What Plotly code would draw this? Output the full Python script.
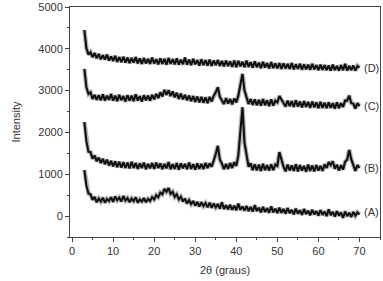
import numpy as np
import plotly.graph_objects as go

# 2theta grid, 0.5 deg step
two_theta = np.arange(3.0, 70.01, 0.5)

sample_a = [
    1100, 720, 540, 520, 390, 460, 330, 420, 350, 440, 320, 410, 360, 450, 340, 470,
    380, 440, 350, 480, 370, 430, 330, 420, 360, 450, 320, 400, 350, 430, 330, 410,
    360, 450, 400, 500, 450, 560, 520, 650, 580, 670, 530, 580, 460, 520, 400, 460,
    350, 420, 300, 380, 290, 360, 250, 340, 230, 330, 240, 310, 210, 320, 200, 300,
    210, 290, 180, 330, 170, 260, 160, 270, 150, 250, 140, 300, 150, 230, 130, 240,
    120, 220, 110, 260, 120, 200, 90, 220, 100, 190, 80, 230, 90, 180, 70, 200,
    80, 170, 60, 190, 70, 150, 40, 180, 60, 140, 30, 170, 50, 130, 20, 150,
    40, 120, 10, 140, 30, 110, 0, 160, 20, 100, -10, 120, 10, 90, -40, 110,
    0, 80, -20, 100, 10, 90, 40,
]

sample_b = [
    2250, 1780, 1540, 1530, 1370, 1450, 1310, 1400, 1270, 1370, 1240, 1350, 1210, 1320, 1190, 1310,
    1170, 1300, 1160, 1290, 1150, 1280, 1140, 1300, 1150, 1270, 1130, 1260, 1150, 1280, 1120, 1250,
    1140, 1270, 1130, 1280, 1150, 1260, 1120, 1250, 1140, 1290, 1120, 1240, 1130, 1270, 1110, 1260,
    1140, 1250, 1120, 1280, 1130, 1240, 1110, 1260, 1130, 1250, 1120, 1270, 1150, 1260, 1180, 1320,
    1480, 1680, 1350, 1260, 1120, 1250, 1130, 1270, 1150, 1290, 1200, 1450, 1950, 2600, 1750, 1400,
    1180, 1260, 1100, 1240, 1090, 1230, 1080, 1250, 1100, 1220, 1090, 1240, 1100, 1230, 1200, 1530,
    1320, 1180, 1070, 1230, 1090, 1210, 1080, 1240, 1070, 1220, 1090, 1200, 1060, 1230, 1080, 1210,
    1070, 1220, 1090, 1200, 1080, 1240, 1150, 1290, 1220, 1310, 1130, 1230, 1090, 1220, 1110, 1300,
    1350, 1580, 1360, 1230, 1080, 1220, 1150,
]

sample_c = [
    3520, 3080, 2920, 2960, 2800, 2900, 2780, 2890, 2770, 2910, 2760, 2880, 2780, 2920, 2760, 2880,
    2750, 2900, 2770, 2870, 2740, 2890, 2760, 2880, 2750, 2910, 2760, 2870, 2740, 2890, 2770, 2880,
    2760, 2900, 2790, 2920, 2820, 2960, 2860, 3020, 2900, 3010, 2870, 2980, 2840, 2950, 2800, 2930,
    2790, 2900, 2770, 2880, 2750, 2870, 2730, 2860, 2720, 2850, 2710, 2840, 2700, 2850, 2740, 2880,
    2960, 3080, 2850, 2780, 2680, 2820, 2690, 2800, 2670, 2810, 2720, 2880, 3120, 3400, 3000, 2820,
    2680, 2800, 2660, 2790, 2650, 2780, 2640, 2800, 2650, 2770, 2630, 2790, 2640, 2760, 2720, 2870,
    2780, 2720, 2620, 2760, 2630, 2750, 2610, 2770, 2620, 2740, 2600, 2750, 2610, 2730, 2590, 2740,
    2600, 2720, 2580, 2730, 2590, 2710, 2580, 2720, 2590, 2700, 2570, 2720, 2580, 2700, 2610, 2760,
    2760, 2880, 2700, 2690, 2570, 2700, 2630,
]

sample_d = [
    4450, 4010, 3860, 3920, 3800, 3900, 3770, 3880, 3750, 3850, 3740, 3860, 3720, 3820, 3710, 3830,
    3690, 3800, 3680, 3810, 3670, 3790, 3660, 3780, 3670, 3800, 3650, 3770, 3640, 3780, 3650, 3760,
    3640, 3790, 3650, 3750, 3630, 3770, 3640, 3760, 3620, 3780, 3640, 3750, 3630, 3770, 3620, 3740,
    3630, 3790, 3620, 3740, 3610, 3760, 3630, 3730, 3600, 3750, 3610, 3730, 3600, 3740, 3590, 3720,
    3610, 3730, 3590, 3710, 3580, 3720, 3590, 3700, 3570, 3720, 3560, 3710, 3580, 3690, 3560, 3720,
    3570, 3680, 3550, 3700, 3560, 3670, 3540, 3690, 3550, 3660, 3530, 3680, 3540, 3650, 3530, 3660,
    3520, 3650, 3530, 3640, 3520, 3660, 3510, 3630, 3520, 3640, 3500, 3630, 3510, 3620, 3500, 3640,
    3510, 3610, 3490, 3620, 3500, 3610, 3490, 3600, 3480, 3620, 3490, 3590, 3480, 3610, 3490, 3640,
    3480, 3590, 3490, 3600, 3480, 3590, 3550,
]

curve_labels = ["(A)", "(B)", "(C)", "(D)"]
label_y = [90, 1150, 2640, 3550]

fig = go.Figure()
for ys in [sample_a, sample_b, sample_c, sample_d]:
    # grey halo + dark core to mimic the noisy band
    fig.add_trace(go.Scatter(x=two_theta, y=ys, mode="lines",
                             line=dict(color="rgba(110,110,110,0.5)", width=4.5), showlegend=False))
    fig.add_trace(go.Scatter(x=two_theta, y=ys, mode="lines",
                             line=dict(color="#111111", width=2.1), showlegend=False))

for lab, yy in zip(curve_labels, label_y):
    fig.add_annotation(x=70.5, y=yy, text=lab, showarrow=False, xanchor="left",
                       font=dict(size=11, color="#333333"))

axis_style = dict(showline=True, linecolor="#444444", linewidth=1, mirror=True,
                  ticks="outside", ticklen=4, tickcolor="#444444", showgrid=False,
                  zeroline=False, automargin=False, tickfont=dict(size=11, color="#333333"))

fig.update_xaxes(range=[-0.5, 75], tick0=0, dtick=10,
                 minor=dict(dtick=5, ticks="outside", ticklen=2, tickcolor="#444444"),
                 title=dict(text="2θ (graus)", font=dict(size=11, color="#333333"), standoff=10),
                 **axis_style)
fig.update_yaxes(range=[-500, 5000], tick0=0, dtick=1000,
                 minor=dict(dtick=500, ticks="outside", ticklen=2, tickcolor="#444444"),
                 title=dict(text="Intensity", font=dict(size=11, color="#333333"), standoff=15),
                 **axis_style)

fig.update_layout(width=383, height=281, margin=dict(l=70, r=3, t=7, b=44),
                  plot_bgcolor="white", paper_bgcolor="white",
                  font=dict(family="Liberation Sans, Arial, sans-serif"))

# drop the default page margin so the figure sits at the window origin
fig.write_html("out.html", config={"displayModeBar": False},
               post_script="document.body.style.margin='0';")
